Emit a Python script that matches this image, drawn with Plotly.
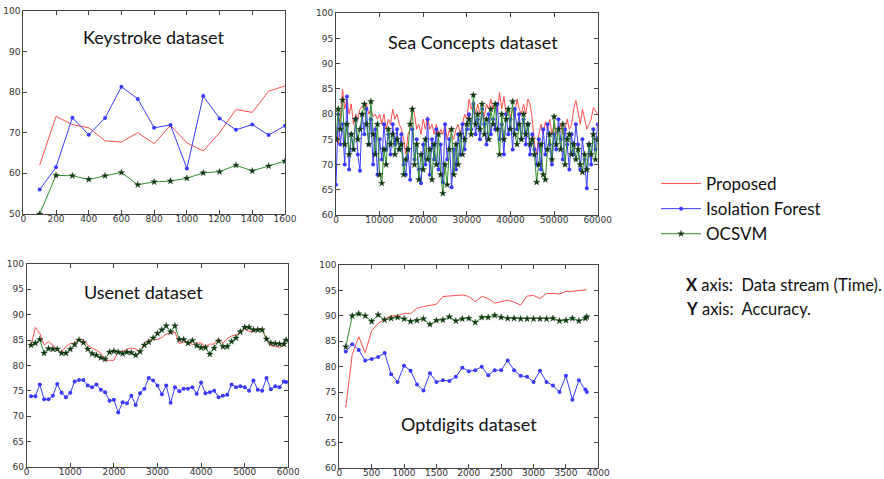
import plotly.graph_objects as go
from plotly.subplots import make_subplots

# ---------------- Keystroke ----------------
ks_x = [100, 200, 300, 400, 500, 600, 700, 800, 900, 1000, 1100, 1200, 1300, 1400, 1500, 1600]
ks_prop = [62, 74, 72, 71.2, 68, 67.7, 70, 67.3, 71.8, 67.5, 65.5, 70, 75.7, 75, 80.2, 81.5]
ks_if = [56, 61.5, 73.7, 69.5, 73.6, 81.3, 78.3, 71.2, 71.9, 61.2, 79, 73.5, 70.7, 72, 69.4, 71.7]
ks_oc = [50, 59.5, 59.4, 58.5, 59.4, 60.2, 57.2, 57.9, 58.1, 58.8, 60.1, 60.4, 62, 60.6, 61.8, 63]

# ---------------- Sea Concepts ----------------
sea_x = list(range(0, 60001, 500))
sea_prop = [75, 74, 79, 85, 81, 83, 80, 82, 78, 80, 79, 81, 81.5, 81, 82, 80, 81, 79.5, 80, 79,
            80, 78, 80, 77, 79, 78, 81, 79, 80, 78, 77, 75, 72, 76, 77, 81.5, 80, 77, 78, 76,
            79, 77, 79.5, 77, 78, 76, 78, 75.5, 77, 76, 78, 75, 77, 76, 75, 77, 78, 76, 78, 80,
            79, 83, 81, 82.5, 80, 82, 80, 81, 79.5, 82, 81, 83, 81, 82, 80.5, 84.3, 81, 83.5, 80, 81,
            79.5, 81, 80, 83, 81, 80, 82, 80, 83, 82, 79, 74, 72, 76, 78, 76, 78.5, 77, 79, 76,
            78, 76, 77, 78, 76, 77, 79, 77, 78, 81, 82.7, 80, 78, 81, 79, 77, 78, 79, 81.3, 80.5, 80]
sea_if = [66, 80, 74, 78, 70, 83.5, 69, 76, 73, 79, 72, 68.8, 80, 76, 81, 74, 79, 70, 77, 68,
          75, 71, 78, 73, 76, 72, 78, 74, 77, 73, 76,
          70, 68, 73, 67, 77, 71, 75, 69, 66.3, 74, 70, 79, 68, 75, 71, 77, 69, 74, 66.5, 78,
          71, 75, 65.5, 73, 69, 76, 72, 78, 73, 77,
          80, 77, 82, 76, 79, 75, 81, 78, 74, 80, 76, 79, 77, 82, 75, 78, 72, 80, 76, 79,
          73, 81, 77, 80, 75, 79, 74, 78, 72, 76,
          73, 70, 75, 69, 77, 72, 78, 74, 70, 76, 73, 79, 75, 71, 77, 74, 69, 76, 72, 78,
          74, 69, 75, 71, 65.3, 74, 70, 77, 73, 78]
sea_oc = [75, 81, 77, 82.8, 74, 78, 72, 76, 73, 79, 75, 77, 80, 82, 78, 74, 82.5, 76, 72, 78,
          68, 66.3, 73, 70, 77, 74, 76, 72, 75, 73, 74,
          68, 71, 73, 78, 81, 70, 74, 67, 72, 69, 75, 71, 73, 67, 74, 70, 76, 68, 64.3, 70,
          66, 73, 77, 68, 74, 70, 76, 72, 75, 78,
          79, 76, 83.8, 78, 80, 77, 82, 76, 79, 75, 81, 78, 82, 77, 72, 80, 75, 79, 81, 77,
          82.5, 76, 74, 78, 75, 80, 76, 78, 74, 75,
          72, 66.5, 70, 74, 68, 67, 73, 76, 71, 79.5, 74, 77, 73, 78, 70, 75, 76, 72, 74, 71,
          73, 70, 68.5, 72, 69, 74, 72, 76, 71, 75]

# ---------------- Usenet ----------------
us_x = list(range(100, 6000, 100)) + [5950]
us_prop = [84, 87.5, 86.3, 84, 84.7, 84, 83, 82.6, 83.7, 84.3, 84.4, 85.2, 85, 84, 83.4, 83, 82.4, 81, 81, 81,
           82.7, 82.7, 83.2, 83.4, 83.2, 82.7, 84.3, 85, 85.1, 85.1,
           85.5, 86.2, 86.3, 86.6, 84.3, 84.6, 84.6, 84.1, 84.4, 84.4, 83.7, 84.2, 84.2, 85.3, 84.4,
           85.3, 85.8, 86, 86.5, 87.2, 86.7, 86.6, 87.2, 87.3, 84.9, 83.9, 83.7, 83.6, 83.9, 84.3]
us_if = [73.9, 73.9, 76.2, 73.3, 73.3, 74, 76.3, 74.6, 73.7, 74.6, 76.8, 77.1, 77.1, 76, 75.7, 76.2, 75.2, 74.7, 73, 73.2,
         70.7, 72.7, 72.5, 74, 72.2, 74.5, 75.4, 77.5, 77, 76,
         74.3, 76, 72.6, 75.7, 74.9, 75.4, 75.4, 75.7, 74.4, 76.6, 74.5, 74.7, 75, 73.7, 74, 74.2,
         76.2, 75.7, 75.9, 75.7, 75, 77, 75.2, 75, 77.5, 75.3, 75.9, 75.7, 76.8, 76.7]
us_oc = [84, 84.4, 85.1, 82.4, 83.3, 83.2, 83.2, 82.4, 82.4, 83.2, 84.1, 85, 84.5, 83.2, 82.3, 82, 81.5, 81.2, 82.6, 82.8,
         82.6, 82.3, 82.6, 82.5, 82, 82.7, 84, 84.6, 85.4, 86.3,
         87, 87.8, 86.6, 87.8, 85.1, 85.1, 84.4, 84.9, 83.9, 83.5, 83.5, 82.2, 83.4, 84.8, 83.7,
         83.7, 84.7, 85.4, 86.6, 87.5, 87.5, 87, 87, 87, 85.2, 84.4, 84.3, 84.2, 84.2, 85]

# ---------------- Optdigits ----------------
op_x = list(range(100, 3801, 100)) + [3823]
op_prop = [72, 82.4, 85.9, 82.7, 87.1, 88.5, 89.3, 90, 90, 90.5, 90.4, 91.5, 91.8, 92.1, 92.3, 93.8, 93.9, 93.9, 94.1, 93.8,
           92.8, 93.8, 93.4, 92.5, 92.8, 93.1, 92.7, 92.1, 93.9, 94, 93.4, 94.4, 94.4, 94.3, 94.8, 94.8, 95, 95, 95.1]
op_if = [83, 84.4, 83.3, 81.2, 81.5, 81.9, 82.7, 78.5, 77, 80.2, 79.2, 76.5, 75.3, 78.7, 77, 77.3, 77.2, 78, 79.8, 79.1,
         79.3, 80, 78.3, 79.3, 79.3, 81.2, 79.3, 78.2, 78, 77, 79.2, 77, 76.3, 75, 78.2, 73.5, 77.3, 75.5, 75]
op_oc = [83.9, 90, 90.4, 90, 88.9, 90.2, 89.2, 89.5, 89.7, 89.4, 88.9, 89.1, 89.4, 88.3, 89.1, 89.2, 89.8, 89, 89.4, 89.5,
         88.7, 89.7, 89.7, 90.1, 89.7, 89.5, 89.5, 89.4, 89.4, 89.4, 89.4, 89.4, 89.5, 89, 89.1, 89.5, 89, 89.5, 89.8]

names = ["Proposed", "Isolation Forest", "OCSVM"]
RED = "#ff4d4d"
BLUE = "#3a3aff"
GREEN = "#2f8f2f"
DKGREEN = "#0e3a0e"

panels = [
    (1, 1, ks_x, ks_prop, ks_if, ks_oc),
    (1, 2, sea_x, sea_prop, sea_if, sea_oc),
    (2, 1, us_x, us_prop, us_if, us_oc),
    (2, 2, op_x, op_prop, op_if, op_oc),
]

fig = make_subplots(rows=2, cols=2)
for i, (r, c, x, p, f, o) in enumerate(panels):
    show = i == 0
    fig.add_trace(go.Scatter(x=x, y=p, mode="lines", name=names[0], showlegend=show,
                             line=dict(color=RED, width=1)), row=r, col=c)
    fig.add_trace(go.Scatter(x=x, y=f, mode="lines+markers", name=names[1], showlegend=show,
                             line=dict(color=BLUE, width=1),
                             marker=dict(symbol="circle", size=4, color=BLUE)), row=r, col=c)
    fig.add_trace(go.Scatter(x=x, y=o, mode="lines+markers", name=names[2], showlegend=show,
                             line=dict(color=GREEN, width=1),
                             marker=dict(symbol="star", size=5, color=DKGREEN,
                                         line=dict(width=0.3, color="#0a2a0a"))), row=r, col=c)

W, H = 884, 479
def dx(a, b):
    return [a / W, b / W]
def dy(top, bottom):
    return [1 - bottom / H, 1 - top / H]

axcommon = dict(showgrid=False, zeroline=False, showline=True, linecolor="#444", linewidth=1,
                mirror="allticks", ticks="inside", ticklen=4, tickcolor="#444", automargin=False,
                tickformat="d",
                tickfont=dict(family="DejaVu Sans", size=9, color="#333"))
xcommon = dict(axcommon, ticklabelstandoff=-4)

fig.update_layout(
    xaxis=dict(xcommon, domain=dx(23.3, 285), range=[0, 1600], tickvals=list(range(0, 1601, 200))),
    yaxis=dict(axcommon, domain=dy(10.7, 214), range=[50, 100], tickvals=list(range(50, 101, 10))),
    xaxis2=dict(xcommon, domain=dx(336, 597.7), range=[0, 60000], tickvals=list(range(0, 60001, 10000))),
    yaxis2=dict(axcommon, domain=dy(13.3, 215), range=[60, 100], tickvals=list(range(60, 101, 5))),
    xaxis3=dict(xcommon, domain=dx(26.7, 288.3), range=[0, 6000], tickvals=list(range(0, 6001, 1000))),
    yaxis3=dict(axcommon, domain=dy(264, 466.7), range=[60, 100], tickvals=list(range(60, 101, 5))),
    xaxis4=dict(xcommon, domain=dx(339.3, 598.3), range=[0, 4000], tickvals=list(range(0, 4001, 500))),
    yaxis4=dict(axcommon, domain=dy(265, 468.3), range=[60, 100], tickvals=list(range(60, 101, 5))),
)

titles = [("Keystroke dataset", 154, 37), ("Sea Concepts dataset", 473, 42),
          ("Usenet dataset", 143, 292), ("Optdigits dataset", 469, 424)]
annotations = []
for t, px, py in titles:
    annotations.append(dict(text=t, x=px / W, y=1 - py / H, xref="paper", yref="paper",
                            xanchor="center", yanchor="middle", showarrow=False,
                            font=dict(family="Lato", size=18, color="#111")))
notes = [("<b>X</b> axis:  Data stream (Time).", 285), ("<b>Y</b> axis:  Accuracy.", 309)]
for t, py in notes:
    annotations.append(dict(text=t, x=684 / W, y=1 - py / H, xref="paper", yref="paper",
                            xanchor="left", yanchor="middle", showarrow=False,
                            font=dict(family="Lato", size=16.5, color="#111")))

fig.update_layout(
    width=W, height=H, margin=dict(l=0, r=0, t=0, b=0),
    paper_bgcolor="white", plot_bgcolor="white",
    annotations=annotations,
    showlegend=True,
    legend=dict(x=656 / W, y=1 - 166 / H, xanchor="left", yanchor="top",
                font=dict(family="Lato", size=17, color="#111"),
                bgcolor="rgba(0,0,0,0)", itemwidth=40, tracegroupgap=0),
)

fig.write_html("out.html")
